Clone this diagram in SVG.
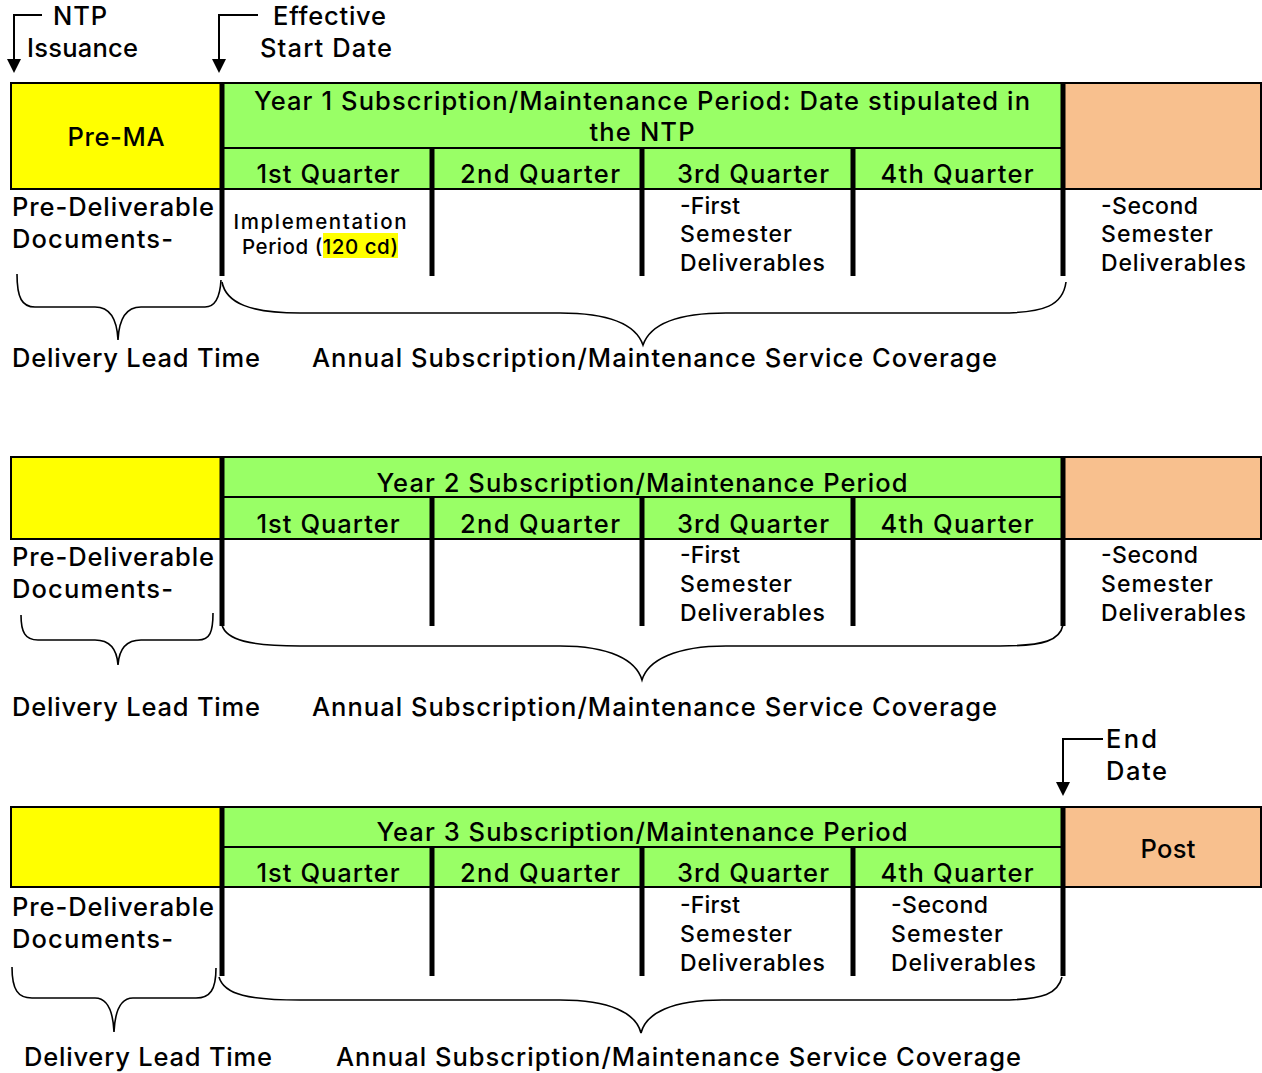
<svg xmlns="http://www.w3.org/2000/svg" width="1262" height="1073" viewBox="0 0 1262 1073">
  <style>
    text { font-family: Inter, "Open Sans", "DejaVu Sans", sans-serif; font-weight: 500; fill: #000; }
    .lg { font-size: 25.5px; }
    .md { font-size: 23px; }
    .sm { font-size: 20.5px; }
    .mid { text-anchor: middle; }
    .pre { fill: #FFFF00; stroke: #000; stroke-width: 2; }
    .yr { fill: #99FF66; stroke: #000; stroke-width: 2; }
    .post { fill: #F8C08E; stroke: #000; stroke-width: 2; }
    .rule { stroke: #000; stroke-width: 2; }
    .bar { stroke: #000; stroke-width: 5; }
    .brace { fill: none; stroke: #000; stroke-width: 1.6; }
    .lead { fill: none; stroke: #000; stroke-width: 2; }
    .tip { fill: #000; }
  </style>

  <!-- ===== Year 1 ===== -->
  <g id="y1-pre">
    <rect class="pre" x="11" y="83" width="211" height="106"/>
    <text class="lg mid" x="116" y="146" textLength="97">Pre-MA</text>
  </g>
  <g id="y1-period">
    <rect class="yr" x="222" y="83" width="841" height="106"/>
    <line class="rule" x1="222" y1="148" x2="1063" y2="148"/>
    <text class="lg mid" x="642" y="110" textLength="776">Year 1 Subscription/Maintenance Period: Date stipulated in</text>
    <text class="lg mid" x="642" y="141" textLength="105">the NTP</text>
  </g>
  <g id="y1-quarters">
    <text class="lg mid" x="328" y="183" textLength="143">1st Quarter</text>
    <text class="lg mid" x="540" y="183" textLength="160">2nd Quarter</text>
    <text class="lg mid" x="753" y="183" textLength="152">3rd Quarter</text>
    <text class="lg mid" x="957" y="183" textLength="153">4th Quarter</text>
  </g>
  <g id="y1-post">
    <rect class="post" x="1063" y="83" width="198" height="106"/>
  </g>
  <g id="y1-bars">
    <line class="bar" x1="222" y1="83" x2="222" y2="276"/>
    <line class="bar" x1="432" y1="148" x2="432" y2="276"/>
    <line class="bar" x1="642" y1="148" x2="642" y2="276"/>
    <line class="bar" x1="853" y1="148" x2="853" y2="276"/>
    <line class="bar" x1="1063" y1="83" x2="1063" y2="276"/>
  </g>
  <g id="y1-notes">
    <text class="lg" x="12" y="216" textLength="202">Pre-Deliverable</text>
    <text class="lg" x="12" y="248" textLength="161">Documents-</text>
    <text class="sm mid" x="320" y="229" textLength="173">Implementation</text>
    <rect x="323" y="233" width="75" height="25" fill="#FFFF00"/>
    <text class="sm mid" x="320" y="254" textLength="156">Period (120 cd)</text>
    <text class="md" x="680" y="214" textLength="60">-First</text>
    <text class="md" x="680" y="242" textLength="112">Semester</text>
    <text class="md" x="680" y="271" textLength="145">Deliverables</text>
    <text class="md" x="1101" y="214" textLength="97">-Second</text>
    <text class="md" x="1101" y="242" textLength="112">Semester</text>
    <text class="md" x="1101" y="271" textLength="145">Deliverables</text>
    <text class="lg" x="12" y="367" textLength="248">Delivery Lead Time</text>
    <text class="lg" x="312" y="367" textLength="685">Annual Subscription/Maintenance Service Coverage</text>
  </g>

  <!-- ===== Year 2 ===== -->
  <g id="y2-pre">
    <rect class="pre" x="11" y="457" width="211" height="82"/>
  </g>
  <g id="y2-period">
    <rect class="yr" x="222" y="457" width="841" height="82"/>
    <line class="rule" x1="222" y1="497" x2="1063" y2="497"/>
    <text class="lg mid" x="642" y="492" textLength="531">Year 2 Subscription/Maintenance Period</text>
  </g>
  <g id="y2-quarters">
    <text class="lg mid" x="328" y="533" textLength="143">1st Quarter</text>
    <text class="lg mid" x="540" y="533" textLength="160">2nd Quarter</text>
    <text class="lg mid" x="753" y="533" textLength="152">3rd Quarter</text>
    <text class="lg mid" x="957" y="533" textLength="153">4th Quarter</text>
  </g>
  <g id="y2-post">
    <rect class="post" x="1063" y="457" width="198" height="82"/>
  </g>
  <g id="y2-bars">
    <line class="bar" x1="222" y1="457" x2="222" y2="626"/>
    <line class="bar" x1="432" y1="497" x2="432" y2="626"/>
    <line class="bar" x1="642" y1="497" x2="642" y2="626"/>
    <line class="bar" x1="853" y1="497" x2="853" y2="626"/>
    <line class="bar" x1="1063" y1="457" x2="1063" y2="626"/>
  </g>
  <g id="y2-notes">
    <text class="lg" x="12" y="566" textLength="202">Pre-Deliverable</text>
    <text class="lg" x="12" y="598" textLength="161">Documents-</text>
    <text class="md" x="680" y="563" textLength="60">-First</text>
    <text class="md" x="680" y="592" textLength="112">Semester</text>
    <text class="md" x="680" y="621" textLength="145">Deliverables</text>
    <text class="md" x="1101" y="563" textLength="97">-Second</text>
    <text class="md" x="1101" y="592" textLength="112">Semester</text>
    <text class="md" x="1101" y="621" textLength="145">Deliverables</text>
    <text class="lg" x="12" y="716" textLength="248">Delivery Lead Time</text>
    <text class="lg" x="312" y="716" textLength="685">Annual Subscription/Maintenance Service Coverage</text>
  </g>

  <!-- ===== Year 3 ===== -->
  <g id="y3-pre">
    <rect class="pre" x="11" y="807" width="211" height="80"/>
  </g>
  <g id="y3-period">
    <rect class="yr" x="222" y="807" width="841" height="80"/>
    <line class="rule" x1="222" y1="847" x2="1063" y2="847"/>
    <text class="lg mid" x="642" y="841" textLength="531">Year 3 Subscription/Maintenance Period</text>
  </g>
  <g id="y3-quarters">
    <text class="lg mid" x="328" y="882" textLength="143">1st Quarter</text>
    <text class="lg mid" x="540" y="882" textLength="160">2nd Quarter</text>
    <text class="lg mid" x="753" y="882" textLength="152">3rd Quarter</text>
    <text class="lg mid" x="957" y="882" textLength="153">4th Quarter</text>
  </g>
  <g id="y3-post">
    <rect class="post" x="1063" y="807" width="198" height="80"/>
    <text class="lg mid" x="1168" y="858" textLength="55">Post</text>
  </g>
  <g id="y3-bars">
    <line class="bar" x1="222" y1="807" x2="222" y2="976"/>
    <line class="bar" x1="432" y1="847" x2="432" y2="976"/>
    <line class="bar" x1="642" y1="847" x2="642" y2="976"/>
    <line class="bar" x1="853" y1="847" x2="853" y2="976"/>
    <line class="bar" x1="1063" y1="807" x2="1063" y2="976"/>
  </g>
  <g id="y3-notes">
    <text class="lg" x="12" y="916" textLength="202">Pre-Deliverable</text>
    <text class="lg" x="12" y="948" textLength="161">Documents-</text>
    <text class="md" x="680" y="913" textLength="60">-First</text>
    <text class="md" x="680" y="942" textLength="112">Semester</text>
    <text class="md" x="680" y="971" textLength="145">Deliverables</text>
    <text class="md" x="891" y="913" textLength="97">-Second</text>
    <text class="md" x="891" y="942" textLength="112">Semester</text>
    <text class="md" x="891" y="971" textLength="145">Deliverables</text>
    <text class="lg" x="24" y="1066" textLength="248">Delivery Lead Time</text>
    <text class="lg" x="336" y="1066" textLength="685">Annual Subscription/Maintenance Service Coverage</text>
  </g>

  <!-- milestone labels -->
  <g id="ntp">
    <text class="lg" x="53" y="25" textLength="54">NTP</text>
    <text class="lg" x="27" y="57" textLength="111">Issuance</text>
  </g>
  <g id="start">
    <text class="lg" x="273" y="25" textLength="113">Effective</text>
    <text class="lg" x="260" y="57" textLength="132">Start Date</text>
  </g>
  <g id="end">
    <text class="lg" x="1106" y="748" textLength="51">End</text>
    <text class="lg" x="1106" y="780" textLength="61">Date</text>
  </g>

  <!-- connectors: milestone pointers and span braces -->
  <g id="connectors">
    <path class="lead" d="M42,15 H14 V60"/>
    <path class="tip" d="M7,59 L21,59 L14,73 Z"/>
    <path class="lead" d="M258,15 H219 V60"/>
    <path class="tip" d="M212,59 L226,59 L219,73 Z"/>
    <path class="lead" d="M1103,739 H1063 V783"/>
    <path class="tip" d="M1056,782 L1070,782 L1063,796 Z"/>

    <path class="brace" d="M17,274 C17,298 22,307 35,307 L95,307 C110,307 117,318 118,340 C119,318 126,307 141,307 L205,307 C215,307 220,298 221,280"/>
    <path class="brace" d="M222,282 C226,303 250,313 300,313 L560,313 C610,313 636,325 643,345 C650,325 676,313 726,313 L1000,313 C1045,313 1063,305 1066,282"/>

    <path class="brace" d="M21,615 C21,632 25,640 38,640 L95,640 C110,640 117,650 118,665 C119,650 126,640 141,640 L198,640 C210,640 213,632 213,613"/>
    <path class="brace" d="M222,625 C226,640 250,646 300,646 L560,646 C610,646 636,660 642,680 C648,660 676,646 726,646 L1000,646 C1045,646 1060,640 1063,625"/>

    <path class="brace" d="M12,967 C12,990 18,998 32,998 L95,998 C107,998 113,1010 114,1032 C115,1010 121,998 133,998 L196,998 C210,998 216,990 216,968"/>
    <path class="brace" d="M219,977 C224,995 250,1000 300,1000 L560,1000 C610,1000 636,1013 641,1033 C646,1013 672,1000 722,1000 L1000,1000 C1045,1000 1058,993 1062,977"/>
  </g>
</svg>
